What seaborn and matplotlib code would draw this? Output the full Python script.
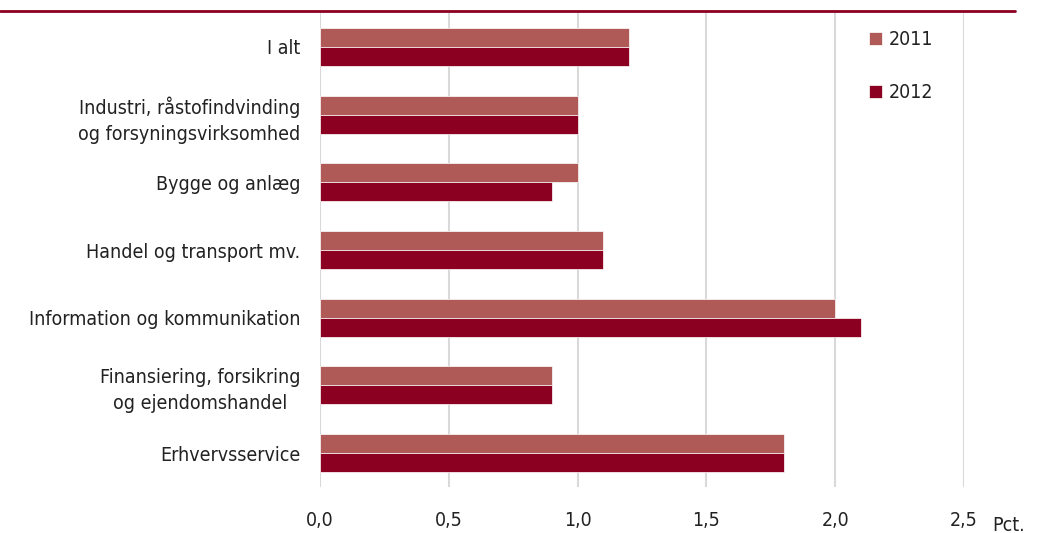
import pandas as pd
import matplotlib.pyplot as plt
import seaborn as sns
from matplotlib import font_manager

# Brancher og værdier (pct.)
categories = [
    'I alt',
    'Industri, råstofindvinding\nog forsyningsvirksomhed',
    'Bygge og anlæg',
    'Handel og transport mv.',
    'Information og kommunikation',
    'Finansiering, forsikring\nog ejendomshandel',
    'Erhvervsservice',
]
values_2011 = [1.2, 1.0, 1.0, 1.1, 2.0, 0.9, 1.8]
values_2012 = [1.2, 1.0, 0.9, 1.1, 2.1, 0.9, 1.8]
years = ['2011', '2012']
x_ticks = [0.0, 0.5, 1.0, 1.5, 2.0, 2.5]

colors = {'2011': '#B05A57', '2012': '#8B0021'}

df = pd.DataFrame({
    'Branche': categories * 2,
    'Aar': [years[0]] * len(categories) + [years[1]] * len(categories),
    'Pct': values_2011 + values_2012,
})

sns.set_theme(style='white')

# smal skrift hvis den findes, ellers Roboto
narrow = [f for f in font_manager.fontManager.ttflist
          if ('Condensed' in f.name or 'Narrow' in f.name
              or f.stretch in ('condensed', 'semi-condensed'))
          and f.style == 'normal' and f.weight in (400, 'normal', 'regular')]
if narrow:
    fp = font_manager.FontProperties(fname=narrow[0].fname)
    fs = 14
else:
    fp = font_manager.FontProperties(family='Roboto')
    fs = 13
fp.set_size(fs)
plt.rcParams['font.family'] = [fp.get_name(), 'DejaVu Sans']
plt.rcParams['font.size'] = fs
txt = '#222222'

fig = plt.figure(figsize=(10.4, 5.33), dpi=100)
ax = fig.add_axes([0.3077, 0.0863, 0.6193, 0.8893])

sns.barplot(data=df, y='Branche', x='Pct', hue='Aar', palette=colors,
            orient='h', width=0.56, edgecolor='white', linewidth=0.5,
            saturation=1, ax=ax)

ax.set_xlim(0, 2.5)
ax.set_ylim(6.5, -0.5)
ax.set_xticks(x_ticks)
ax.set_xticklabels([f'{t:.1f}'.replace('.', ',') for t in x_ticks])
ax.set_xlabel('')
ax.set_ylabel('')
ax.tick_params(axis='x', length=0, pad=17, colors=txt)
ax.tick_params(axis='y', length=0, pad=14, colors=txt)
for lbl in ax.get_yticklabels() + ax.get_xticklabels():
    lbl.set_fontproperties(fp)
for lbl in ax.get_yticklabels():
    lbl.set_linespacing(1.45)
    lbl.set_multialignment('center')
ax.grid(axis='x', color='#D9D9D9', linewidth=1.5)
ax.set_axisbelow(True)
for s in ax.spines.values():
    s.set_visible(False)

leg = ax.legend(loc='upper left', bbox_to_anchor=(0.84, 0.98), frameon=False,
                prop=fp, handlelength=0.7, handleheight=0.7,
                handletextpad=0.3, labelspacing=1.75, borderaxespad=0)
for t in leg.get_texts():
    t.set_color(txt)

fig.text(0.954, 0.004, 'Pct.', fontproperties=fp, color=txt)
fig.add_artist(plt.Line2D([0, 0.976], [0.979, 0.979], color='#8B0021',
                          linewidth=2, transform=fig.transFigure))

fig.savefig('out.png', dpi=100)
